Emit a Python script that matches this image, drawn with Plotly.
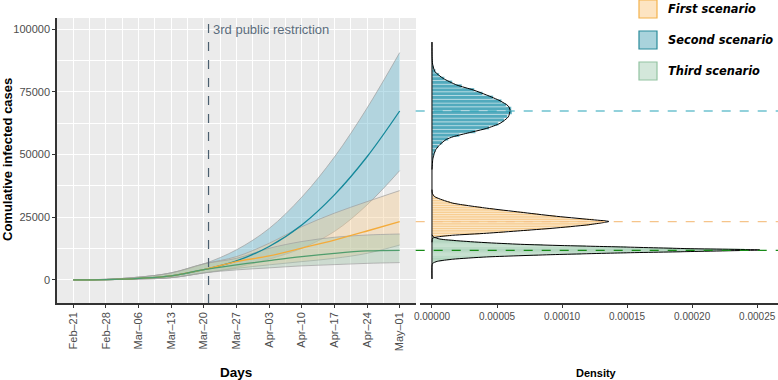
import plotly.graph_objects as go
import pandas as pd

# ---------------- data ----------------
dates = ["2020-02-21", "2020-02-28", "2020-03-06", "2020-03-13", "2020-03-20", "2020-03-27",
         "2020-04-03", "2020-04-10", "2020-04-17", "2020-04-24", "2020-05-01"]
tick_labels = ["Feb–21", "Feb–28", "Mar–06", "Mar–13", "Mar–20", "Mar–27",
               "Apr–03", "Apr–10", "Apr–17", "Apr–24", "May–01"]
restriction_date = "2020-03-21"
restriction_label = "3rd public restriction"

first_mid = [20, 150, 650, 1650, 4100, 7300, 9560, 12700, 15900, 19500, 23240]
first_low = [10, 80, 350, 900, 2800, 4600, 6000, 7300, 8600, 10600, 13900]
first_up = [30, 250, 1100, 2800, 6400, 9300, 14600, 21200, 26600, 31200, 35600]

second_mid = [20, 150, 650, 1650, 4100, 7600, 13300, 21900, 33900, 49100, 67330]
second_low = [10, 80, 350, 900, 2800, 5000, 8300, 12600, 19300, 29900, 43560]
second_up = [30, 250, 1100, 2800, 6400, 12000, 20500, 33000, 49000, 68500, 90600]

third_mid = [20, 150, 650, 1650, 4100, 6000, 7700, 9300, 10600, 11550, 11800]
third_low = [10, 80, 350, 900, 2800, 4000, 4800, 5600, 6100, 6600, 6900]
third_up = [30, 250, 1100, 2800, 6400, 8600, 12600, 15300, 17000, 17900, 18300]

y_ticks = [0, 25000, 50000, 75000, 100000]
y_tick_labels = ["0", "25000", "50000", "75000", "100000"]
dens_ticks = [0, 0.00005, 0.00010, 0.00015, 0.00020, 0.00025]
dens_tick_labels = ["0.00000", "0.00005", "0.00010", "0.00015", "0.00020", "0.00025"]

# histogram bins (centre, density)
second_bin_width = 1500
second_bins = [45750, 47250, 48750, 50250, 51750, 53250, 54750, 56250, 57750, 59250,
               60750, 62250, 63750, 65250, 66750, 68250, 69750, 71250, 72750, 74250,
               75750, 77250, 78750, 80250, 81750, 83250, 84750, 86250, 87750, 89250]
second_hist = [0.2e-6, 0.5e-6, 0.7e-6, 1.8e-6, 2.9e-6, 4.8e-6, 8.0e-6, 12.5e-6, 21.0e-6, 33.5e-6,
               44.0e-6, 51.0e-6, 55.5e-6, 58.0e-6, 61.5e-6, 61.0e-6, 57.0e-6, 53.5e-6, 47.0e-6, 39.0e-6,
               32.5e-6, 23.0e-6, 15.5e-6, 9.5e-6, 5.5e-6, 2.8e-6, 1.2e-6, 0.6e-6, 0.3e-6, 0.1e-6]

first_bin_width = 700
first_bins = [16350, 17050, 17750, 18450, 19150, 19850, 20550, 21250, 21950, 22650,
              23350, 24050, 24750, 25450, 26150, 26850, 27550, 28250, 28950, 29650,
              30350, 31050, 31750, 32450, 33150, 33850, 34550]
first_hist = [0.3e-6, 3.5e-6, 15e-6, 37e-6, 56e-6, 75e-6, 91e-6, 107e-6, 121e-6, 129e-6,
              133e-6, 124e-6, 106e-6, 95e-6, 82e-6, 71e-6, 58e-6, 48e-6, 38e-6, 27e-6,
              19e-6, 14e-6, 9e-6, 5e-6, 2.5e-6, 1e-6, 0.4e-6]

third_bin_width = 450
third_bins = [6775, 7225, 7675, 8125, 8575, 9025, 9475, 9925, 10375, 10825,
              11275, 11725, 12175, 12625, 13075, 13525, 13975, 14425, 14875, 15325,
              15775, 16225, 16675, 17125]
third_hist = [1e-6, 3e-6, 8e-6, 14e-6, 25e-6, 38e-6, 55e-6, 82e-6, 115e-6, 150e-6,
              192e-6, 235e-6, 240e-6, 185e-6, 150e-6, 118e-6, 85e-6, 60e-6, 43e-6, 28e-6,
              17e-6, 8e-6, 3e-6, 1e-6]

# density curves (value, density)
second_curve_y = [44000, 46000, 48000, 50000, 52000, 54000, 56000, 57100, 58700, 60400, 62400,
                  65000, 67700, 69300, 71400, 73700, 75700, 77700, 80300, 83000, 86000, 89000, 94800]
second_curve_d = [0, 0.3e-6, 0.6e-6, 1.5e-6, 3e-6, 6.2e-6, 11e-6, 16.4e-6, 28.7e-6, 42e-6, 52.3e-6,
                  58.7e-6, 60e-6, 58.7e-6, 52.3e-6, 42e-6, 31.8e-6, 19e-6, 8.7e-6, 2.3e-6, 0.5e-6, 0.1e-6, 0]

first_curve_y = [15000, 16600, 17200, 17800, 18600, 19600, 20600, 21900, 22700, 23300, 24100,
                 25500, 27000, 28600, 29600, 30600, 31900, 33200, 34500, 36000]
first_curve_d = [0, 0.5e-6, 5e-6, 16e-6, 42e-6, 68e-6, 93e-6, 119e-6, 130e-6, 136e-6, 121e-6,
                 93e-6, 68e-6, 42e-6, 28e-6, 16e-6, 8e-6, 2e-6, 0.3e-6, 0]

third_curve_y = [400, 5500, 6600, 7400, 8250, 9160, 10080, 10760, 11280, 11950, 12480,
                 13150, 13700, 14200, 14900, 15600, 16300, 17200, 18000]
third_curve_d = [0, 0, 0.5e-6, 4e-6, 16e-6, 42e-6, 93e-6, 145e-6, 196e-6, 252e-6, 196e-6,
                 145e-6, 100e-6, 68e-6, 40e-6, 20e-6, 6e-6, 1e-6, 0]

# ---------------- styles ----------------
scen = [
    dict(name="First scenario", mid=first_mid, low=first_low, up=first_up,
         line="#f4ab3a", ribbon="rgba(245,205,148,0.42)",
         bins=first_bins, hist=first_hist, bw=first_bin_width,
         cy=first_curve_y, cd=first_curve_d,
         hfill="rgba(246,190,110,0.85)", dash="#f5c48a",
         lg_fill="#fde4c2", lg_line="#f3b24c"),
    dict(name="Second scenario", mid=second_mid, low=second_low, up=second_up,
         line="#14889a", ribbon="rgba(100,180,204,0.42)",
         bins=second_bins, hist=second_hist, bw=second_bin_width,
         cy=second_curve_y, cd=second_curve_d,
         hfill="rgba(52,155,178,0.85)", dash="#27a3b8",
         lg_fill="#a9d3dc", lg_line="#2a8b9b"),
    dict(name="Third scenario", mid=third_mid, low=third_low, up=third_up,
         line="#4f9d6d", ribbon="rgba(165,198,172,0.42)",
         bins=third_bins, hist=third_hist, bw=third_bin_width,
         cy=third_curve_y, cd=third_curve_d,
         hfill="rgba(110,178,135,0.85)", dash="#178a17",
         lg_fill="#d3e7da", lg_line="#93c3a2"),
]

W, H = 778, 380
fig = go.Figure()

# ribbons
draw_order = [1, 0, 2]
for i in draw_order:
    s = scen[i]
    fig.add_trace(go.Scatter(x=dates, y=s["low"], mode="lines",
                             line=dict(color="rgba(160,160,160,0.9)", width=0.8, shape="spline"),
                             showlegend=False, hoverinfo="skip", xaxis="x", yaxis="y"))
    fig.add_trace(go.Scatter(x=dates, y=s["up"], mode="lines", fill="tonexty",
                             fillcolor=s["ribbon"],
                             line=dict(color="rgba(160,160,160,0.9)", width=0.8, shape="spline"),
                             showlegend=False, hoverinfo="skip", xaxis="x", yaxis="y"))
# central lines
for i in [1, 0, 2]:
    s = scen[i]
    fig.add_trace(go.Scatter(x=dates, y=s["mid"], mode="lines",
                             line=dict(color=s["line"], width=1.3, shape="spline"),
                             showlegend=False, xaxis="x", yaxis="y"))

# histograms
for s in scen:
    fig.add_trace(go.Bar(x=s["hist"], y=s["bins"], orientation="h", width=s["bw"], base=0,
                         marker=dict(color=s["hfill"], line=dict(color="rgba(255,255,255,0.75)", width=0.5)),
                         showlegend=False, xaxis="x2", yaxis="y2"))
# density outlines
for s in scen:
    fig.add_trace(go.Scatter(x=s["cd"], y=s["cy"], mode="lines",
                             line=dict(color="black", width=1, shape="spline", smoothing=0.6),
                             showlegend=False, xaxis="x2", yaxis="y2"))
all_y = second_curve_y + first_curve_y + third_curve_y
fig.add_trace(go.Scatter(x=[0, 0], y=[min(all_y), max(all_y)], mode="lines",
                         line=dict(color="black", width=1), showlegend=False,
                         xaxis="x2", yaxis="y2"))

# ---------------- layout ----------------
minor_dates = [(pd.Timestamp(d) + pd.Timedelta(hours=84)).strftime("%Y-%m-%d %H:%M") for d in dates]
yr = [-9200, 104400]
tickfont = dict(family="Liberation Sans, Arial, sans-serif", size=11, color="#4d4d4d")

shapes = [
    dict(type="rect", xref="x domain", yref="y domain", x0=0, x1=1, y0=0, y1=1,
         fillcolor="#ebebeb", line=dict(width=0), layer="below"),
    dict(type="line", xref="x", yref="y domain", x0=restriction_date, x1=restriction_date,
         y0=0, y1=1, line=dict(color="#4b5f6f", width=1.2, dash="dash")),
]
for s in scen:
    shapes.append(dict(type="line", xref="x2 domain", yref="y2", x0=-0.012, x1=1,
                       y0=s["mid"][-1], y1=s["mid"][-1],
                       line=dict(color=s["dash"], width=1.2, dash="dash"), layer="above"))

annotations = [
    dict(text=restriction_label, xref="x", yref="paper", x=restriction_date, y=1 - 29 / H,
         xanchor="left", yanchor="middle", xshift=2, showarrow=False,
         font=dict(family="Liberation Sans, Arial, sans-serif", size=13, color="#5b6d7d")),
    dict(text="<b>Comulative infected cases</b>", xref="paper", yref="paper", x=7 / W,
         y=1 - 160 / H, textangle=-90, showarrow=False, xanchor="center", yanchor="middle",
         font=dict(family="Liberation Sans, Arial, sans-serif", size=13, color="black")),
    dict(text="<b>Days</b>", xref="paper", yref="paper", x=236.5 / W, y=1 - 372 / H,
         showarrow=False, xanchor="center", yanchor="middle",
         font=dict(family="Liberation Sans, Arial, sans-serif", size=13.5, color="black")),
    dict(text="<b>Density</b>", xref="paper", yref="paper", x=596 / W, y=1 - 373 / H,
         showarrow=False, xanchor="center", yanchor="middle",
         font=dict(family="Liberation Sans, Arial, sans-serif", size=11, color="black")),
]
# legend (manual)
lg_tops = [0, 31, 62]
for s, t in zip(scen, lg_tops):
    shapes.append(dict(type="rect", xref="paper", yref="paper", x0=639 / W, x1=657 / W,
                       y0=1 - (t + 18) / H, y1=1 - t / H, fillcolor=s["lg_fill"],
                       line=dict(color=s["lg_line"], width=1.2)))
    annotations.append(dict(text="<b><i>" + s["name"] + "</i></b>", xref="paper", yref="paper",
                            x=666 / W, y=1 - (t + 9) / H, xanchor="left", yanchor="middle",
                            showarrow=False,
                            font=dict(family="DejaVu Sans", size=11.4, color="black")))

fig.update_layout(
    width=W, height=H, margin=dict(l=0, r=0, t=0, b=0),
    paper_bgcolor="white", plot_bgcolor="white", showlegend=False, barmode="overlay",
    xaxis=dict(domain=[57 / W, 416 / W], anchor="y", type="date",
               range=["2020-02-17 12:00", "2020-05-04 12:00"],
               tickmode="array", tickvals=dates, ticktext=tick_labels, tickangle=-90,
               tickfont=tickfont, ticks="outside", ticklen=3, tickcolor="#333333",
               showgrid=True, gridcolor="white", gridwidth=1.1,
               minor=dict(tickmode="array", tickvals=minor_dates, showgrid=True,
                          gridcolor="white", gridwidth=0.5, ticklen=0),
               showline=True, linecolor="#333333", linewidth=1.5, zeroline=False, automargin=False),
    yaxis=dict(domain=[77 / H, 362 / H], anchor="x", range=yr,
               tickmode="array", tickvals=y_ticks, ticktext=y_tick_labels,
               tickfont=tickfont, ticks="outside", ticklen=3, tickcolor="#333333",
               showgrid=True, gridcolor="white", gridwidth=1.1,
               minor=dict(tickmode="array", tickvals=[12500, 37500, 62500, 87500], showgrid=True,
                          gridcolor="white", gridwidth=0.5, ticklen=0),
               showline=True, linecolor="#333333", linewidth=1.5, zeroline=False, automargin=False),
    xaxis2=dict(domain=[420 / W, 1], anchor="y2", range=[-0.0000092, 0.000266],
                tickmode="array", tickvals=dens_ticks, ticktext=dens_tick_labels,
                tickfont=dict(family="Liberation Sans, Arial, sans-serif", size=10, color="#4d4d4d"),
                ticks="outside", ticklen=3, tickcolor="#333333",
                showgrid=False, showline=True, linecolor="#333333", linewidth=1.5,
                zeroline=False, automargin=False),
    yaxis2=dict(domain=[77 / H, 362 / H], anchor="x2", range=yr, visible=False,
                showgrid=False, zeroline=False),
    shapes=shapes, annotations=annotations,
)

fig.write_html("out.html", config={"displayModeBar": False},
               post_script="document.body.style.margin='0';document.body.style.overflow='hidden';")
